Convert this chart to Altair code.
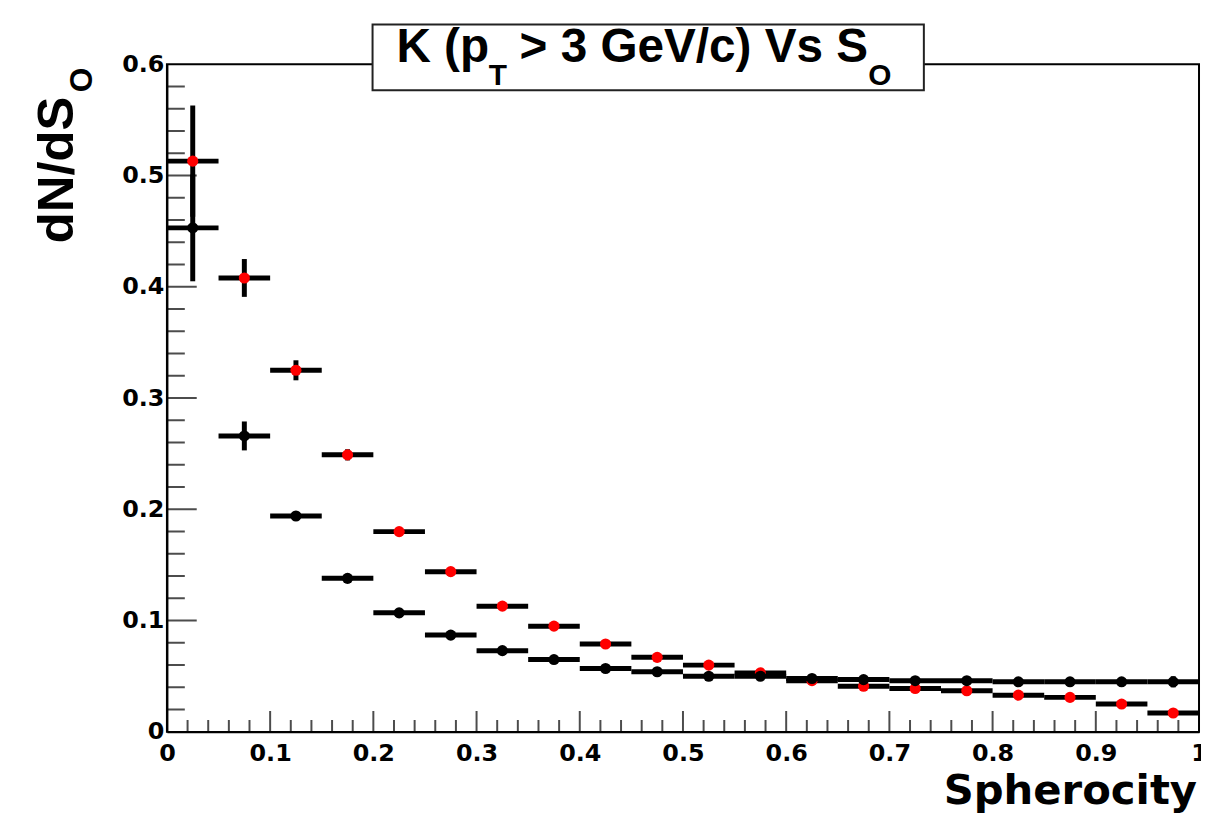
import altair as alt
import pandas as pd

# ---------------- data ----------------
bin_lo = [0.00, 0.05, 0.10, 0.15, 0.20, 0.25, 0.30, 0.35, 0.40, 0.45,
          0.50, 0.55, 0.60, 0.65, 0.70, 0.75, 0.80, 0.85, 0.90, 0.95]
bin_hi = [0.05, 0.10, 0.15, 0.20, 0.25, 0.30, 0.35, 0.40, 0.45, 0.50,
          0.55, 0.60, 0.65, 0.70, 0.75, 0.80, 0.85, 0.90, 0.95, 1.00]
bin_center = [0.025, 0.075, 0.125, 0.175, 0.225, 0.275, 0.325, 0.375, 0.425, 0.475,
              0.525, 0.575, 0.625, 0.675, 0.725, 0.775, 0.825, 0.875, 0.925, 0.975]

red_y = [0.513, 0.408, 0.325, 0.249, 0.180, 0.144, 0.113, 0.095, 0.079, 0.067,
         0.060, 0.053, 0.046, 0.041, 0.039, 0.037, 0.033, 0.031, 0.025, 0.017]
red_err = [0.050, 0.017, 0.009, 0.005, 0.004, 0.004, 0.003, 0.003, 0.003, 0.003,
           0.002, 0.002, 0.002, 0.002, 0.002, 0.002, 0.002, 0.002, 0.002, 0.002]

black_y = [0.453, 0.266, 0.194, 0.138, 0.107, 0.087, 0.073, 0.065, 0.057, 0.054,
           0.050, 0.050, 0.048, 0.047, 0.046, 0.046, 0.045, 0.045, 0.045, 0.045]
black_err = [0.048, 0.013, 0.004, 0.004, 0.004, 0.003, 0.003, 0.003, 0.003, 0.003,
             0.003, 0.003, 0.003, 0.003, 0.003, 0.003, 0.003, 0.003, 0.003, 0.005]

x_label_values = [0, 0.1, 0.2, 0.3, 0.4, 0.5, 0.6, 0.7, 0.8, 0.9, 1]
y_label_values = [0, 0.1, 0.2, 0.3, 0.4, 0.5, 0.6]
x_major_ticks = [0.1, 0.2, 0.3, 0.4, 0.5, 0.6, 0.7, 0.8, 0.9]
x_minor_ticks = [0.02, 0.04, 0.06, 0.08, 0.12, 0.14, 0.16, 0.18, 0.22, 0.24, 0.26, 0.28,
                 0.32, 0.34, 0.36, 0.38, 0.42, 0.44, 0.46, 0.48, 0.52, 0.54, 0.56, 0.58,
                 0.62, 0.64, 0.66, 0.68, 0.72, 0.74, 0.76, 0.78, 0.82, 0.84, 0.86, 0.88,
                 0.92, 0.94, 0.96, 0.98]
y_major_ticks = [0.1, 0.2, 0.3, 0.4, 0.5]
y_minor_ticks = [0.02, 0.04, 0.06, 0.08, 0.12, 0.14, 0.16, 0.18, 0.22, 0.24, 0.26, 0.28,
                 0.32, 0.34, 0.36, 0.38, 0.42, 0.44, 0.46, 0.48, 0.52, 0.54, 0.56, 0.58]

FONT = "Liberation Sans"
WIDE = "DejaVu Sans"
W, H = 1039, 672

xscale = alt.Scale(domain=[0, 1], nice=False, zero=False)
yscale = alt.Scale(domain=[0, 0.6], nice=False, zero=False)


def series_df(ys, errs):
    return pd.DataFrame({
        "x": bin_center, "xlo": bin_lo, "xhi": bin_hi,
        "y": ys,
        "ylo": [v - e for v, e in zip(ys, errs)],
        "yhi": [v + e for v, e in zip(ys, errs)],
    })


red_df = series_df(red_y, red_err)
black_df = series_df(black_y, black_err)

x_axis = alt.Axis(values=x_label_values, format="~g", title=None, grid=False,
                  ticks=False, tickSize=0, domain=True, domainColor="black", domainWidth=2,
                  labelFont=WIDE, labelFontWeight="bold", labelFontSize=24,
                  labelColor="black", labelPadding=10, labelFlush=False,
                  labelOverlap=False, labelBound=False)
y_axis = alt.Axis(values=y_label_values, format="~g", title=None, grid=False,
                  ticks=False, tickSize=0, domain=True, domainColor="black", domainWidth=2,
                  labelFont=WIDE, labelFontWeight="bold", labelFontSize=24,
                  labelColor="black", labelPadding=3, labelFlush=False,
                  labelOverlap=False, labelBound=False)


def series_layers(df, color):
    base = alt.Chart(df)
    hbar = base.mark_rule(color="black", strokeWidth=5).encode(
        x=alt.X("xlo:Q", scale=xscale, axis=x_axis),
        x2="xhi:Q",
        y=alt.Y("y:Q", scale=yscale, axis=y_axis),
    )
    vbar = base.mark_rule(color="black", strokeWidth=5).encode(
        x=alt.X("x:Q", scale=xscale),
        y=alt.Y("ylo:Q", scale=yscale),
        y2="yhi:Q",
    )
    pts = base.mark_circle(color=color, size=125, opacity=1).encode(
        x=alt.X("x:Q", scale=xscale),
        y=alt.Y("y:Q", scale=yscale),
    )
    return [hbar, vbar, pts]


# inward ticks (clipped half of a centred tick)
def xticks(vals, size):
    return alt.Chart(pd.DataFrame({"x": vals, "y": [0] * len(vals)})).mark_tick(
        orient="vertical", size=size, thickness=2, color="black", clip=True
    ).encode(x=alt.X("x:Q", scale=xscale), y=alt.Y("y:Q", scale=yscale))


def yticks(vals, size):
    return alt.Chart(pd.DataFrame({"x": [0] * len(vals), "y": vals})).mark_tick(
        orient="horizontal", size=size, thickness=2, color="black", clip=True
    ).encode(x=alt.X("x:Q", scale=xscale), y=alt.Y("y:Q", scale=yscale))


one = pd.DataFrame({"a": [0]})


def txt(text, x, y, size, align="left", angle=0, font=FONT):
    kw = dict(text=text, align=align, baseline="alphabetic", font=font,
              fontWeight="bold", fontSize=size, color="black")
    if angle:
        kw["angle"] = angle
    return alt.Chart(one).mark_text(**kw).encode(x=alt.value(x), y=alt.value(y))


title_box = alt.Chart(one).mark_rect(fill="white", stroke="#222", strokeWidth=2).encode(
    x=alt.value(207), x2=alt.value(762), y=alt.value(-40), y2=alt.value(26)
)

layers = (
    [xticks(x_major_ticks, 42), xticks(x_minor_ticks, 24),
     yticks(y_major_ticks, 60), yticks(y_minor_ticks, 36)]
    + series_layers(red_df, "#ff0000")
    + series_layers(black_df, "#000000")
    + [
        title_box,
        txt("K (p", 231, -2, 48),
        txt("T", 324, 21, 30),
        txt("> 3 GeV/c) Vs S", 355, -2, 48),
        txt("O", 706, 21, 30),
        txt("dN/dS", -95, 180, 51, angle=270),
        txt("O", -75, 28, 32, angle=270),
        txt("Spherocity", 1037, 745, 42, align="right", font=WIDE),
    ]
)

chart = alt.layer(*layers).properties(
    width=W, height=H,
    autosize=alt.AutoSizeParams(type="none"),
    padding={"left": 160, "top": 54, "right": 2, "bottom": 86},
    background="white",
).configure_view(stroke="black", strokeWidth=2)

chart.save("out.html", embed_options={"renderer": "svg", "actions": False})
